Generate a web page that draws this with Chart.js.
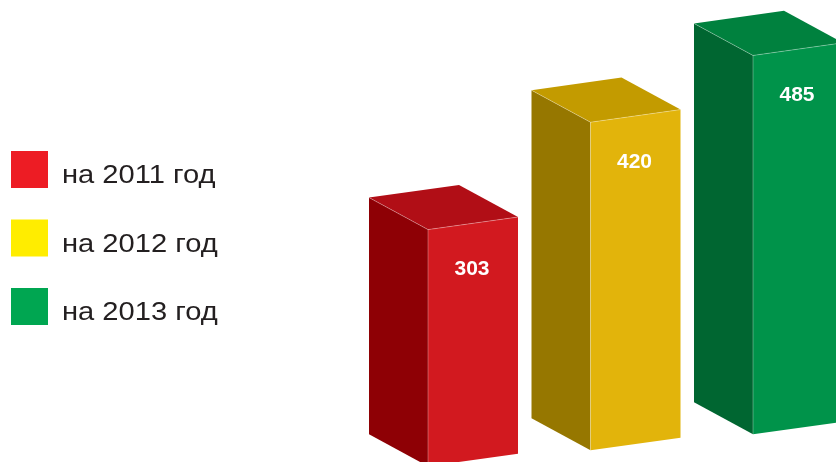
<!DOCTYPE html>
<html>
<head>
<meta charset="utf-8">
<script src="https://cdn.jsdelivr.net/npm/chart.js@4.4.1/dist/chart.umd.min.js"></script>
<style>
  html, body { margin: 0; padding: 0; background: #fff; }
  #wrap { width: 836px; height: 462px; }
</style>
</head>
<body>
<div id="wrap"><canvas id="myChart"></canvas></div>
<script>
const categories = ['на 2011 год', 'на 2012 год', 'на 2013 год'];
const values = [303, 420, 485];
const legendColors = ['#ED1C24', '#FFED00', '#00A651'];
const frontColors = ['#D2191F', '#E2B40B', '#00934A'];
const sideColors = ['#8E0005', '#967700', '#006631'];
const topColors = ['#B10E16', '#C39B00', '#00813E'];

// look of the boxes
const depthX = -59, depthY = -32;
const slopeIn = -0.14, slopeOut = -0.0985;

const poly = (ctx, pts, color) => {
    ctx.beginPath();
    ctx.moveTo(pts[0][0], pts[0][1]);
    for (let k = 1; k < pts.length; k++) ctx.lineTo(pts[k][0], pts[k][1]);
    ctx.closePath();
    ctx.fillStyle = color;
    ctx.fill();
}

const bars3d = {
    id: 'bars3d',
    beforeDatasetsDraw(chart) {
        const ctx = chart.ctx;
        const meta = chart.getDatasetMeta(0);
        const pivot = chart.scales.x.getPixelForValue(0);
        ctx.save();
        meta.data.forEach((bar, i) => {
            const p = bar.getProps(['x', 'y', 'base', 'width']);
            const shift = slopeOut * (p.x - pivot);
            const proj = (x, y) => [x, y + shift + slopeIn * (x - p.x)];
            const l = p.x - p.width / 2, r = p.x + p.width / 2;
            const fl = proj(l, p.y), fr = proj(r, p.y);
            const bl = proj(l, p.base), br = proj(r, p.base);
            const d = (pt) => [pt[0] + depthX, pt[1] + depthY];

            poly(ctx, [fl, d(fl), d(bl), bl], sideColors[i]);
            poly(ctx, [fl, fr, d(fr), d(fl)], topColors[i]);
            poly(ctx, [fl, fr, br, bl], frontColors[i]);

            // thin light edges
            ctx.strokeStyle = 'rgba(255,255,255,0.3)';
            ctx.lineWidth = 1;
            ctx.beginPath();
            ctx.moveTo(d(fl)[0], d(fl)[1]);
            ctx.lineTo(fl[0], fl[1]);
            ctx.lineTo(fr[0], fr[1]);
            ctx.moveTo(fl[0], fl[1]);
            ctx.lineTo(bl[0], bl[1]);
            ctx.stroke();

            // value label
            const top = proj(p.x, p.y);
            ctx.fillStyle = '#ffffff';
            ctx.font = 'bold 21px "Liberation Sans", Arial, sans-serif';
            ctx.textAlign = 'center';
            ctx.textBaseline = 'middle';
            ctx.fillText(String(chart.data.datasets[0].data[i].y), p.x - 1, top[1] + 46);
        });
        ctx.restore();
        return false;
    }
};

// legend on the left, drawn by hand
const sideLegend = {
    id: 'sideLegend',
    afterDraw(chart) {
        const ctx = chart.ctx;
        ctx.save();
        categories.forEach((t, i) => {
            const y = 151 + i * 68.5;
            ctx.fillStyle = legendColors[i];
            ctx.fillRect(11, y, 37, 37);
            ctx.save();
            ctx.translate(62, y + 32);
            ctx.scale(1.12, 1);
            ctx.fillStyle = '#231F20';
            ctx.font = '26px "Liberation Sans", Arial, sans-serif';
            ctx.textAlign = 'left';
            ctx.textBaseline = 'alphabetic';
            ctx.fillText(t, 0, 0);
            ctx.restore();
        });
        ctx.restore();
    }
};

let ctx = document.getElementById('myChart').getContext('2d');

const myChart = new Chart(ctx, {
    type: 'bar',
    data: {
        labels: categories,
        datasets: [{
            label: 'год',
            data: values.map((v, i) => ({x: i, y: v})),
            backgroundColor: frontColors,
            barThickness: 90
        }]
    },
    options: {
        responsive: true,
        maintainAspectRatio: false,
        animation: false,
        layout: {padding: 0},
        scales: {
            x: {
                type: 'linear',
                display: false,
                offset: false,
                min: -2.9108,
                max: 2.2338
            },
            y: {
                display: false,
                min: -2.56,
                max: 588.9
            }
        },
        plugins: {
            tooltip: {enabled: false},
            legend: {display: false}
        }
    },
    plugins: [bars3d, sideLegend]
});
</script>
</body>
</html>
